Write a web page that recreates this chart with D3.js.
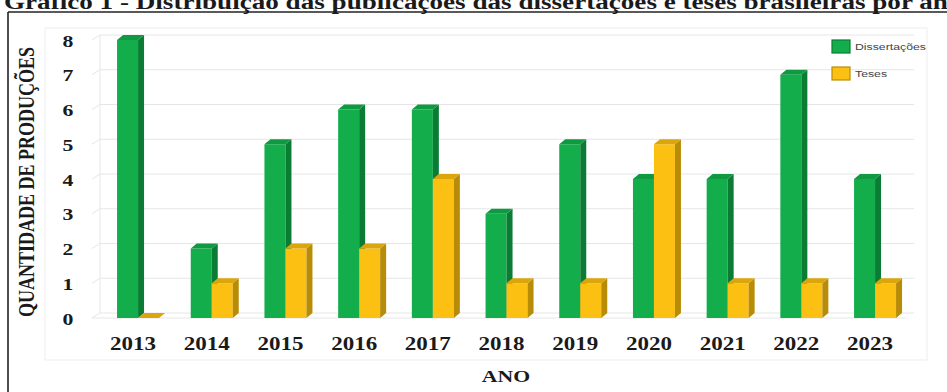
<!DOCTYPE html>
<html>
<head>
<meta charset="utf-8">
<script src="https://cdn.jsdelivr.net/npm/d3@7"></script>
<style>
  html, body { margin: 0; padding: 0; background: #fff; }
  svg { display: block; }
</style>
</head>
<body>
<svg id="chart" width="947" height="392"></svg>
<script>
// Publications per year
const years = ["2013","2014","2015","2016","2017","2018","2019","2020","2021","2022","2023"];
const dissertacoes = [8, 2, 5, 6, 6, 3, 5, 4, 4, 7, 4];
const teses = [0, 1, 2, 2, 4, 1, 1, 5, 1, 1, 1];
const seriesNames = ["Dissertações", "Teses"];
const yTicks = [0, 1, 2, 3, 4, 5, 6, 7, 8];

const titleText = "Gráfico 1 - Distribuição das publicações das dissertações e teses brasileiras por ano";
const yTitle = "QUANTIDADE DE PRODUÇÕES";
const xTitle = "ANO";

const W = 947, H = 392;
const svg = d3.select("#chart");
const serif = "'Liberation Serif', 'Times New Roman', serif";
const sans = "'Liberation Sans', Arial, sans-serif";
const SX = 1.28; // horizontal stretch of lettering

const palette = {
  "Dissertações": { front: "#13ae4b", side: "#0a7c34", top: "#0f9a42" },
  "Teses":        { front: "#fcc012", side: "#b88c06", top: "#dba60c" }
};

// depth of the 3D effect
const DX = 6, DY = -5;

const x = d3.scaleBand().domain(years).range([101.2, 911.9]).padding(0);
const xs = d3.scaleBand().domain(seriesNames).range([-21, 21]).padding(0);
const y = d3.scaleLinear().domain([0, 8]).range([318, 40]);

// outer frame and title
svg.append("line").attr("x1", 8).attr("x2", W).attr("y1", 12).attr("y2", 12)
  .attr("stroke", "#222").attr("stroke-width", 1.6);
svg.append("line").attr("x1", 8).attr("x2", 8).attr("y1", 12).attr("y2", H)
  .attr("stroke", "#222").attr("stroke-width", 1.6);

function stretchedText(g, tx, ty, txt, opts) {
  const t = g.append("text")
    .attr("transform", `translate(${tx},${ty}) scale(${SX},1)` + (opts.rotate ? ` rotate(${opts.rotate})` : ""))
    .attr("text-anchor", opts.anchor || "middle")
    .attr("font-family", opts.family || serif)
    .attr("font-weight", opts.weight || "bold")
    .attr("font-size", opts.size)
    .attr("fill", opts.fill || "#1a1a1a")
    .text(txt);
  if (opts.baseline) t.attr("dominant-baseline", opts.baseline);
  return t;
}

stretchedText(svg, 4, 9, titleText, { anchor: "start", size: 21.2 });

// chart area frame
svg.append("rect").attr("x", 45).attr("y", 28).attr("width", 882).attr("height", 332)
  .attr("fill", "none").attr("stroke", "#ededed").attr("stroke-width", 1);

// back-wall grid with perspective stubs on the side wall
const grid = svg.append("g").attr("stroke", "#e6e6e6").attr("stroke-width", 1).attr("fill", "none");
grid.selectAll("line.h").data(yTicks).join("line").attr("class", "h")
  .attr("x1", 100).attr("x2", 914)
  .attr("y1", d => y(d) + DY).attr("y2", d => y(d) + DY);
grid.selectAll("line.d").data(yTicks).join("line").attr("class", "d")
  .attr("x1", 92).attr("x2", 100)
  .attr("y1", d => y(d)).attr("y2", d => y(d) + DY);
grid.append("line").attr("x1", 100).attr("x2", 100).attr("y1", y(8) + DY).attr("y2", y(0) + DY);
grid.append("line").attr("x1", 92).attr("x2", 906).attr("y1", y(0)).attr("y2", y(0));

// bars
const rows = [];
years.forEach((yr, i) => {
  rows.push({ year: yr, key: "Dissertações", value: dissertacoes[i] });
  rows.push({ year: yr, key: "Teses", value: teses[i] });
});

const bars = svg.append("g");
const groups = bars.selectAll("g.bar").data(rows).join("g").attr("class", "bar");
groups.each(function(d) {
  const g = d3.select(this);
  const x0 = x(d.year) + x.bandwidth() / 2 + xs(d.key);
  const w = xs.bandwidth();
  const yt = y(d.value), yb = y(0);
  const c = palette[d.key];
  if (d.value > 0) {
    g.append("rect").attr("x", x0).attr("y", yt).attr("width", w).attr("height", yb - yt)
      .attr("fill", c.front);
    g.append("polygon")
      .attr("points", [[x0 + w, yt], [x0 + w + DX, yt + DY], [x0 + w + DX, yb + DY], [x0 + w, yb]].join(" "))
      .attr("fill", c.side);
  }
  g.append("polygon")
    .attr("points", [[x0, yt], [x0 + DX, yt + DY], [x0 + w + DX, yt + DY], [x0 + w, yt]].join(" "))
    .attr("fill", c.top);
});

// y axis labels
const yAxis = svg.append("g").attr("transform", "translate(75,0)")
  .call(d3.axisLeft(y).tickValues(yTicks).tickFormat(d3.format("d")).tickSize(0).tickPadding(0));
yAxis.select(".domain").remove();
yAxis.selectAll("text").remove();
yAxis.selectAll(".tick").each(function(d) {
  stretchedText(d3.select(this), -7, 6, String(d), { size: 17 });
});

// x axis labels
const xAxis = svg.append("g").attr("transform", "translate(0,0)")
  .call(d3.axisBottom(x).tickSize(0));
xAxis.select(".domain").remove();
xAxis.selectAll("text").remove();
xAxis.selectAll(".tick").each(function(d) {
  stretchedText(d3.select(this), -5, 350, d, { size: 18 });
});

// axis titles
stretchedText(svg, 34, 182, yTitle, { size: 18, rotate: -90 });
stretchedText(svg, 506, 382, xTitle, { size: 17 });

// legend
const legend = svg.append("g");
seriesNames.forEach((s, i) => {
  const ly = 40 + i * 27;
  legend.append("rect").attr("x", 832).attr("y", ly).attr("width", 18).attr("height", 13)
    .attr("fill", palette[s].front).attr("stroke", palette[s].side).attr("stroke-width", 1.2);
  stretchedText(legend, 855, ly + 10, s, { anchor: "start", size: 9.6, family: sans, weight: "normal", fill: "#444" });
});
</script>
</body>
</html>
